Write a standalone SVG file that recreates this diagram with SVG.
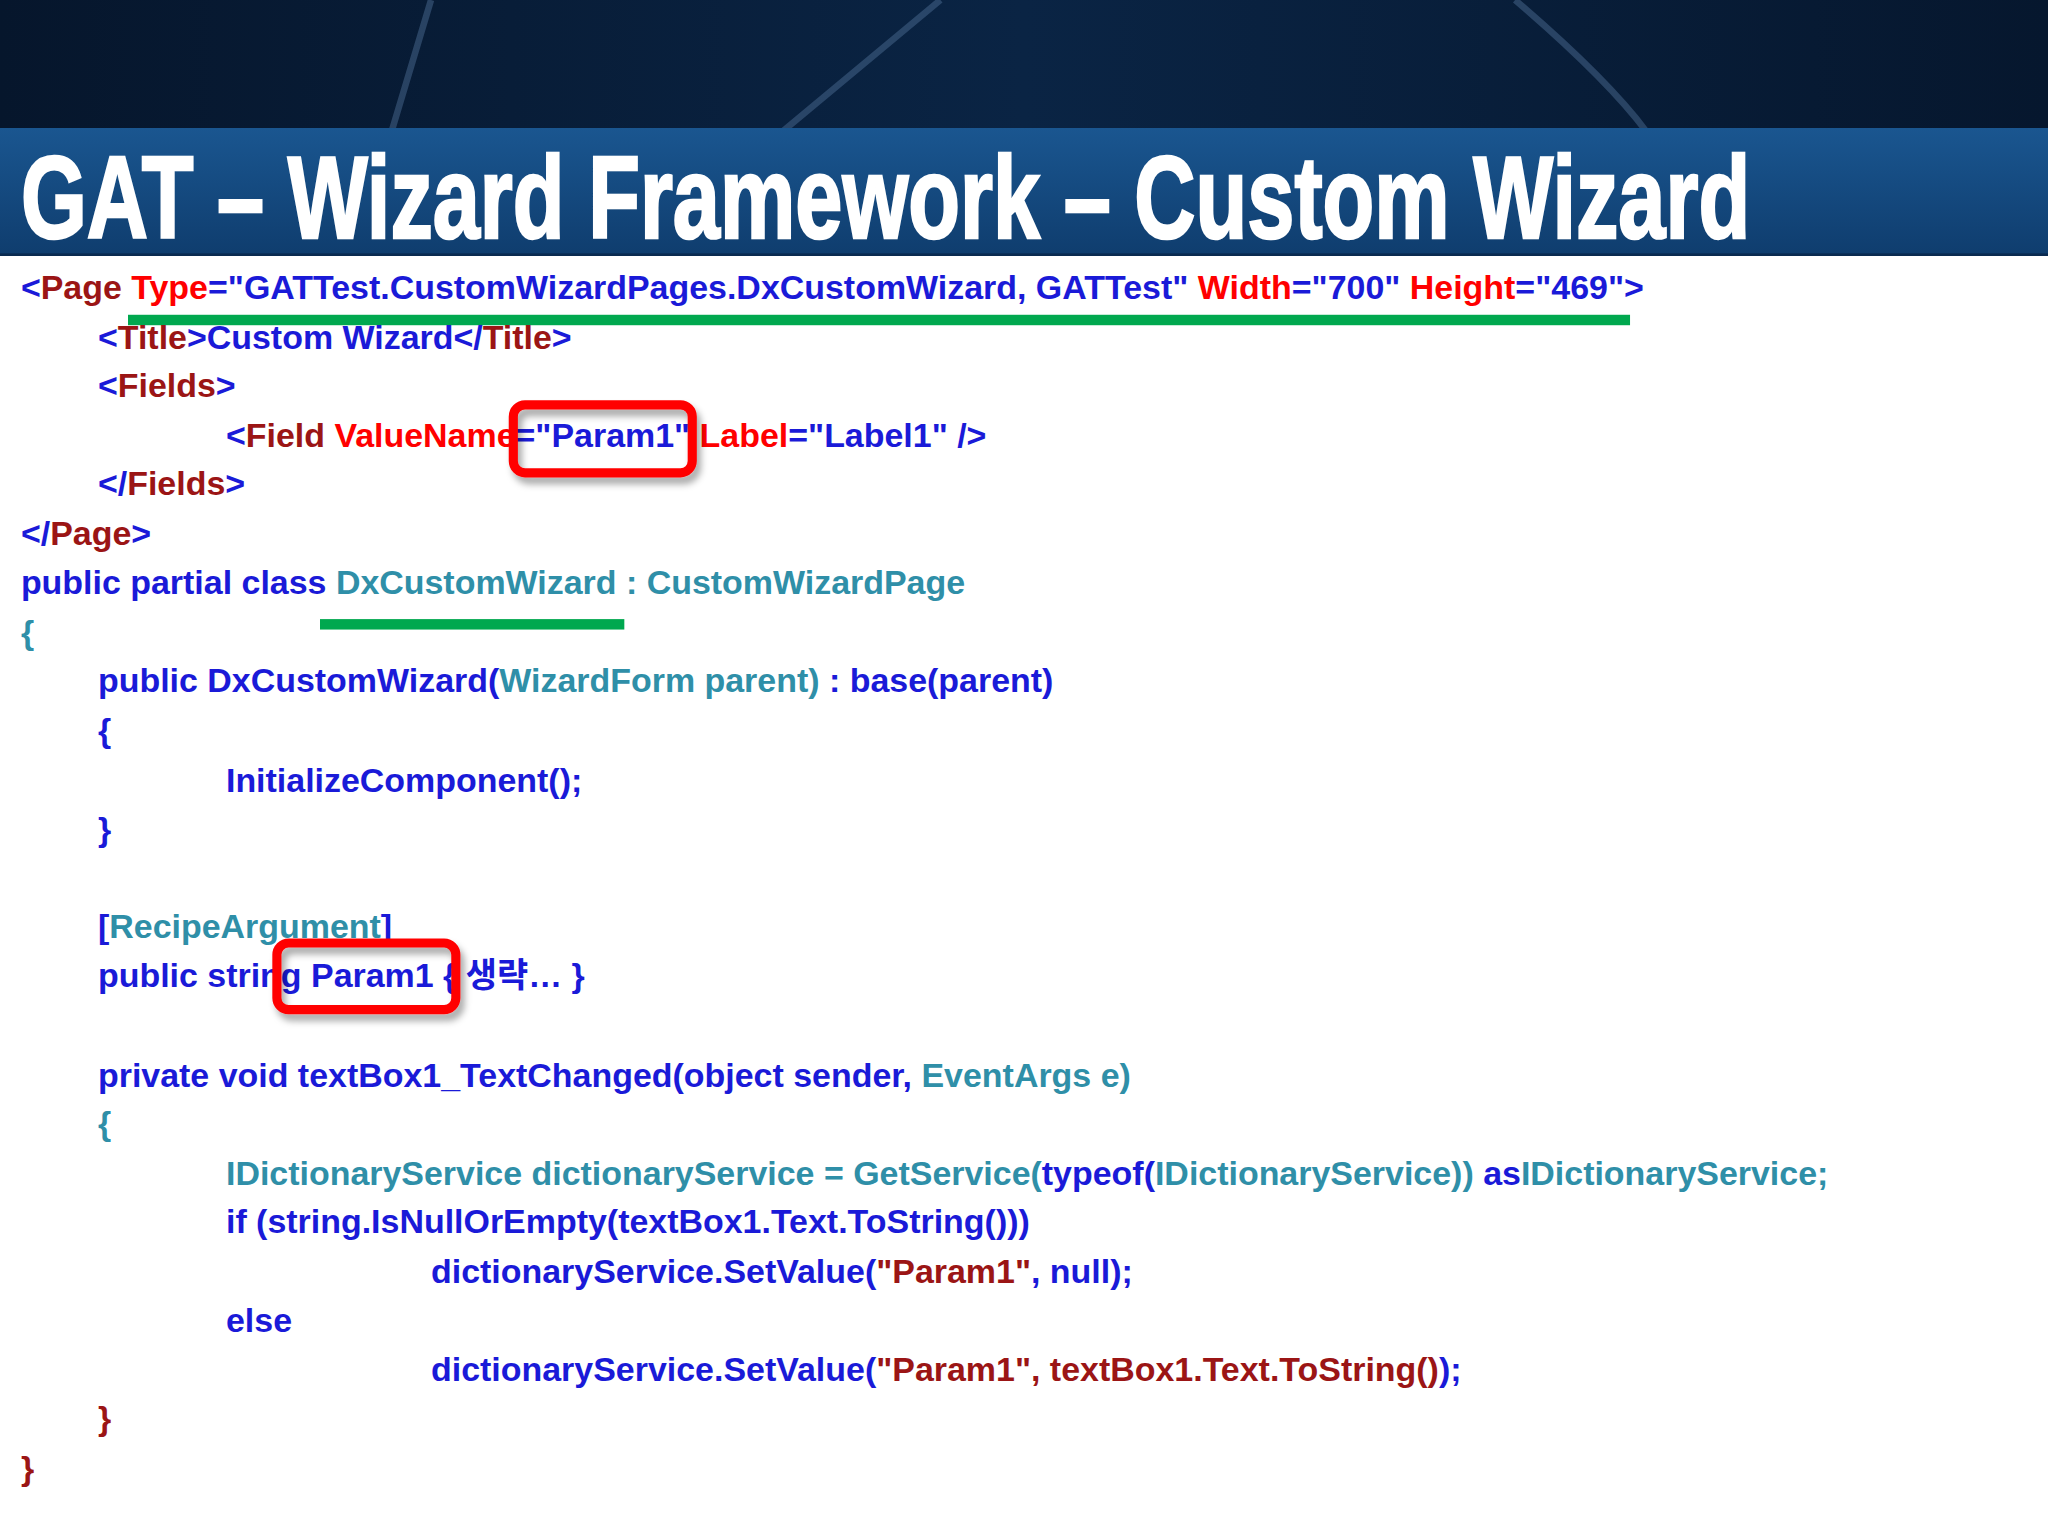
<svg xmlns="http://www.w3.org/2000/svg" width="2048" height="1536" viewBox="0 0 2048 1536">
<defs>
<linearGradient id="top" x1="0" y1="0" x2="1" y2="0"><stop offset="0" stop-color="#06162c"/><stop offset="0.5" stop-color="#0a2444"/><stop offset="1" stop-color="#06172e"/></linearGradient>
<linearGradient id="band" x1="0" y1="0" x2="0" y2="1"><stop offset="0" stop-color="#1a5690"/><stop offset="1" stop-color="#0f3d6e"/></linearGradient>
<filter id="sh" x="-20%" y="-20%" width="150%" height="160%"><feDropShadow dx="3" dy="5" stdDeviation="3" flood-color="#000" flood-opacity="0.35"/></filter>
<style>
.c{font-family:"Liberation Sans",Arial,"Noto Sans CJK KR",sans-serif;font-weight:bold;font-size:26px;fill:#1a1ad8}
.t{fill:#9b1515}.r{fill:#f00}.b{fill:#1a1ad8}.g{fill:#2f8fa8}
.box{fill:none;stroke:#f00;stroke-width:7}
</style>
</defs>
<g transform="scale(1.30612)">
<g id="header">
<rect x="0" y="0" width="1568" height="100" fill="url(#top)"/>
<path d="M330 0 L300 100 M720 0 L600 100 M1160 0 Q1230 60 1260 100" stroke="#4a6a90" stroke-width="5" fill="none" opacity="0.5"/>
<rect x="0" y="98" width="1568" height="97" fill="url(#band)"/>
<rect x="0" y="194" width="1568" height="2" fill="#0a2a50"/>
<text x="16" y="182" textLength="1324" lengthAdjust="spacingAndGlyphs" style="font-family:'Liberation Sans',Arial,sans-serif;font-weight:bold;font-size:90px;fill:#fff;stroke:#fff;stroke-width:2">GAT – Wizard Framework – Custom Wizard</text>
</g>
<rect x="0" y="196" width="1568" height="980" fill="#fff"/>
<g id="marks">
<rect x="98" y="241" width="1150" height="8" fill="#00a84f"/>
<rect x="245" y="474" width="233" height="8" fill="#00a84f"/>
</g>
<g id="code" class="c">
<text x="16" y="229"><tspan class="b">&lt;</tspan><tspan class="t">Page </tspan><tspan class="r">Type</tspan>="GATTest.CustomWizardPages.DxCustomWizard, GATTest" <tspan class="r">Width</tspan>="700" <tspan class="r">Height</tspan>="469"&gt;</text>
<text x="75" y="267">&lt;<tspan class="t">Title</tspan>&gt;Custom Wizard&lt;/<tspan class="t">Title</tspan>&gt;</text>
<text x="75" y="304">&lt;<tspan class="t">Fields</tspan>&gt;</text>
<text x="173" y="342">&lt;<tspan class="t">Field </tspan><tspan class="r">ValueName</tspan>="Param1" <tspan class="r">Label</tspan>="Label1" /&gt;</text>
<text x="75" y="379">&lt;/<tspan class="t">Fields</tspan>&gt;</text>
<text x="16" y="417">&lt;/<tspan class="t">Page</tspan>&gt;</text>
<text x="16" y="455">public partial class <tspan class="g">DxCustomWizard : CustomWizardPage</tspan></text>
<text x="16" y="493" class="g">{</text>
<text x="75" y="530">public DxCustomWizard(<tspan class="g">WizardForm parent)</tspan> : base(parent)</text>
<text x="75" y="568">{</text>
<text x="173" y="606">InitializeComponent();</text>
<text x="75" y="644">}</text>
<text x="75" y="718">[<tspan class="g">RecipeArgument</tspan>]</text>
<text x="75" y="756">public string Param1 { 생략… }</text>
<text x="75" y="832">private void textBox1_TextChanged(object sender, <tspan class="g">EventArgs e)</tspan></text>
<text x="75" y="869" class="g">{</text>
<text x="173" y="907"><tspan class="g">IDictionaryService dictionaryService = GetService(</tspan>typeof(<tspan class="g">IDictionaryService))</tspan> as<tspan class="g">IDictionaryService;</tspan></text>
<text x="173" y="944">if (string.IsNullOrEmpty(textBox1.Text.ToString()))</text>
<text x="330" y="982">dictionaryService.SetValue(<tspan class="t">"Param1"</tspan>, null);</text>
<text x="173" y="1020">else</text>
<text x="330" y="1057">dictionaryService.SetValue(<tspan class="t">"Param1", textBox1.Text.ToString()</tspan>);</text>
<text x="75" y="1095" class="t">}</text>
<text x="16" y="1133" class="t">}</text>
</g>
<g id="highlights" filter="url(#sh)">
<rect class="box" x="393" y="310" width="137" height="52" rx="9"/>
<rect class="box" x="212" y="722" width="137" height="51" rx="9"/>
</g>
</g>
</svg>
